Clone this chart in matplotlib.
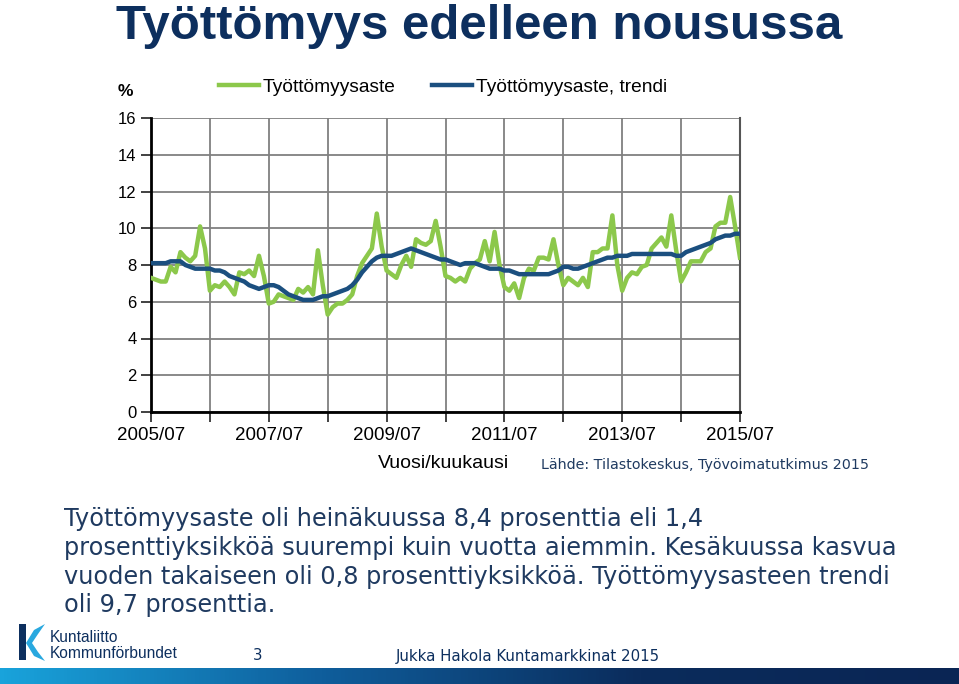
import numpy as np
import matplotlib.pyplot as plt
from matplotlib.patches import Polygon, Rectangle
from matplotlib.colors import LinearSegmentedColormap

# Monthly unemployment rate 2005/07 - 2015/07 (%)
rate = [7.3, 7.2, 7.1, 7.1, 7.9, 7.6, 8.7, 8.4, 8.2, 8.5, 10.1, 8.9,
        6.6, 6.9, 6.8, 7.1, 6.8, 6.4, 7.6, 7.5, 7.7, 7.4, 8.5, 7.4,
        5.9, 6.0, 6.4, 6.3, 6.2, 6.1, 6.7, 6.5, 6.8, 6.4, 8.8, 6.9,
        5.3, 5.7, 5.9, 5.9, 6.1, 6.4, 7.4, 8.1, 8.5, 8.9, 10.8, 9.0,
        7.7, 7.5, 7.3, 8.0, 8.5, 7.9, 9.4, 9.2, 9.1, 9.3, 10.4, 9.0,
        7.4, 7.3, 7.1, 7.3, 7.1, 7.8, 8.1, 8.3, 9.3, 8.2, 9.8, 8.0,
        6.8, 6.6, 7.0, 6.2, 7.3, 7.8, 7.7, 8.4, 8.4, 8.3, 9.4, 8.0,
        6.9, 7.3, 7.1, 6.9, 7.3, 6.8, 8.7, 8.7, 8.9, 8.9, 10.7, 8.0,
        6.6, 7.3, 7.6, 7.5, 7.9, 8.0, 8.9, 9.2, 9.5, 9.0, 10.7, 8.8,
        7.1, 7.6, 8.2, 8.2, 8.2, 8.7, 8.9, 10.1, 10.3, 10.3, 11.7, 10.1,
        8.4]

trend = [8.1, 8.1, 8.1, 8.1, 8.2, 8.2, 8.2, 8.0, 7.9, 7.8, 7.8, 7.8,
         7.8, 7.7, 7.7, 7.6, 7.4, 7.3, 7.2, 7.1, 6.9, 6.8, 6.7, 6.8,
         6.9, 6.9, 6.8, 6.6, 6.4, 6.3, 6.2, 6.1, 6.1, 6.1, 6.2, 6.3,
         6.3, 6.4, 6.5, 6.6, 6.7, 6.9, 7.2, 7.6, 7.9, 8.2, 8.4, 8.5,
         8.5, 8.5, 8.6, 8.7, 8.8, 8.9, 8.8, 8.7, 8.6, 8.5, 8.4, 8.3,
         8.3, 8.2, 8.1, 8.0, 8.1, 8.1, 8.1, 8.0, 7.9, 7.8, 7.8, 7.8,
         7.7, 7.7, 7.6, 7.5, 7.5, 7.5, 7.5, 7.5, 7.5, 7.5, 7.6, 7.7,
         7.9, 7.9, 7.8, 7.8, 7.9, 8.0, 8.1, 8.2, 8.3, 8.4, 8.4, 8.5,
         8.5, 8.5, 8.6, 8.6, 8.6, 8.6, 8.6, 8.6, 8.6, 8.6, 8.6, 8.5,
         8.5, 8.7, 8.8, 8.9, 9.0, 9.1, 9.2, 9.4, 9.5, 9.6, 9.6, 9.7,
         9.7]

tick_labels = ['2005/07', '2007/07', '2009/07', '2011/07', '2013/07', '2015/07']
y_ticks = [0, 2, 4, 6, 8, 10, 12, 14, 16]

GREEN = '#8cc84b'
BLUE = '#1b4f7f'
NAVY = '#0d2f5e'
TEXT = '#1f3a60'
W, H = 959, 684
NARROW = ['Liberation Sans Narrow', 'Liberation Sans', 'DejaVu Sans']


def fx(x):
    return x / W


def fy(y):
    return 1 - y / H


fig = plt.figure(figsize=(W / 100, H / 100), dpi=100)
ax = fig.add_axes([fx(151), fy(412), (740 - 151) / W, (412 - 118) / H])

months = np.arange(len(rate))
ax.plot(months, rate, color=GREEN, lw=3.2, solid_joinstyle='round', label='Työttömyysaste', zorder=3)
ax.plot(months, trend, color=BLUE, lw=3.2, solid_joinstyle='round', label='Työttömyysaste, trendi', zorder=4)

ax.set_xlim(0, 120)
ax.set_ylim(0, 16)
ax.set_xticks(range(0, 121, 24))
ax.set_xticklabels(tick_labels)
ax.set_xticks(range(12, 121, 24), minor=True)
ax.set_yticks(y_ticks)
ax.grid(True, which='both', color='#808080', lw=1.3)
ax.set_axisbelow(True)
ax.tick_params(axis='both', which='both', direction='out', length=7, width=1.3, color='#333333')
ax.tick_params(axis='x', which='major', pad=4)
for lab in ax.get_xticklabels():
    lab.set_family(NARROW)
    lab.set_fontsize(13.5)
for lab in ax.get_yticklabels():
    lab.set_family(NARROW)
    lab.set_fontsize(12)
for side in ['left', 'bottom']:
    ax.spines[side].set_color('black')
    ax.spines[side].set_linewidth(2)
ax.spines['top'].set_visible(False)
ax.spines['right'].set_color('#555555')
ax.spines['right'].set_linewidth(1.5)

fig.legend(loc='center', bbox_to_anchor=(fx(443), fy(87)), ncol=2, frameon=False,
           handlelength=2.1, columnspacing=1.9, handletextpad=0.2,
           prop={'family': NARROW, 'size': 13.8})

fig.text(fx(125), fy(92), '%', family=NARROW, fontsize=12.5, fontweight='bold', ha='center', va='center')
fig.text(fx(444), fy(463), 'Vuosi/kuukausi', family=NARROW, fontsize=14, ha='center', va='center')
fig.text(fx(541), fy(465), 'Lähde: Tilastokeskus, Työvoimatutkimus 2015', fontsize=10.3,
         color=TEXT, ha='left', va='center')

fig.text(fx(479), fy(39), 'Työttömyys edelleen nousussa', family=['Liberation Sans', 'DejaVu Sans'],
         fontsize=35.5, fontweight='bold', color=NAVY, ha='center', va='baseline')

body = ['Työttömyysaste oli heinäkuussa 8,4 prosenttia eli 1,4',
        'prosenttiyksikköä suurempi kuin vuotta aiemmin. Kesäkuussa kasvua',
        'vuoden takaiseen oli 0,8 prosenttiyksikköä. Työttömyysasteen trendi',
        'oli 9,7 prosenttia.']
for k, line in enumerate(body):
    fig.text(fx(64), fy(519 + k * 28.8), line, fontsize=17.3, color=TEXT, ha='left', va='center')

# footer: logo, page number, author
fig.patches.append(Rectangle((fx(19), fy(660)), 7 / W, 36 / H, transform=fig.transFigure,
                             facecolor=NAVY, edgecolor='none'))
fig.patches.append(Polygon([(fx(26), fy(643)), (fx(34), fy(630)), (fx(45), fy(624)),
                            (fx(38), fy(634)), (fx(32), fy(643)), (fx(38), fy(652)),
                            (fx(45), fy(661)), (fx(34), fy(656))],
                           closed=True, transform=fig.transFigure, facecolor='#29a8df', edgecolor='none'))
fig.text(fx(50), fy(638), 'Kuntaliitto', family=NARROW, fontsize=11.2, color=NAVY, ha='left', va='center')
fig.text(fx(50), fy(654), 'Kommunförbundet', family=NARROW, fontsize=11.2, color=NAVY, ha='left', va='center')
fig.text(fx(258), fy(656), '3', fontsize=10.8, color=NAVY, ha='center', va='center')
fig.text(fx(396), fy(656), 'Jukka Hakola Kuntamarkkinat 2015', fontsize=10.8, color=NAVY, ha='left', va='center')

band = fig.add_axes([0, 0, 1, 16 / H])
cmap = LinearSegmentedColormap.from_list('band', ['#19a3db', '#0f5e9c', '#0b2c5c', '#0a2554'])
band.imshow(np.linspace(0, 1, 256)[None, :], aspect='auto', cmap=cmap, extent=[0, 1, 0, 1])
band.axis('off')

fig.savefig('out.png', dpi=100)
